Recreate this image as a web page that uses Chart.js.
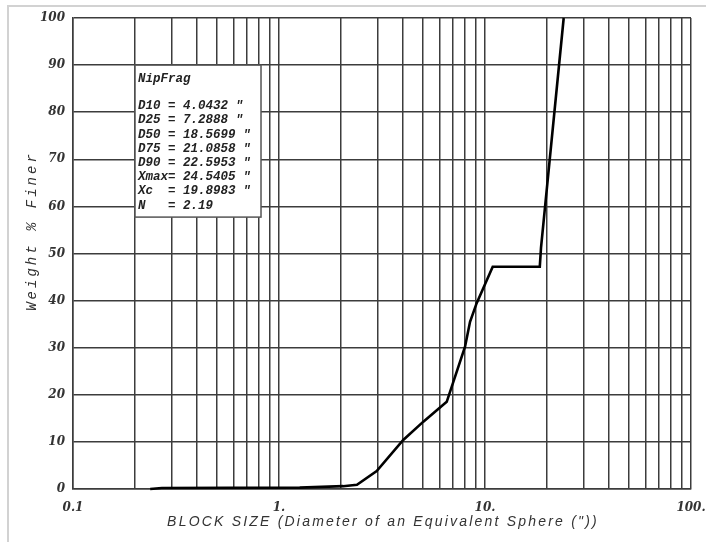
<!DOCTYPE html>
<html>
<head>
<meta charset="utf-8">
<script src="https://cdn.jsdelivr.net/npm/chart.js@4.4.1/dist/chart.umd.min.js"></script>
<style>
  html, body { margin: 0; padding: 0; background: #fff; }
  #frame { position: absolute; left: 7px; top: 5px; width: 699px; height: 537px;
           border-top: 2px solid #d2d2d2; border-left: 2px solid #d2d2d2; }
  #chart { position: absolute; left: 0; top: 0; }
</style>
</head>
<body>
<div id="frame"></div>
<canvas id="chart" width="706" height="542"></canvas>
<script>
'use strict';

// block size (inches) vs weight % finer
var blockSize = [0.237, 0.27, 1.26, 2.05, 2.39, 2.98, 4.01, 5.02, 6.52, 8.0, 8.46, 9.1, 10.9, 18.45, 18.7, 24.1];
var pctFiner  = [0,     0.2,  0.3,  0.6,  0.9,  3.8,  10.4, 14.3, 18.5, 30.2, 35.5, 39.4, 47.2, 47.2,  51.2, 100];

var xDecades    = [0.1, 1, 10, 100];
var xTickLabels = ['0.1', '1.', '10.', '100.'];
var yTicks      = [0, 10, 20, 30, 40, 50, 60, 70, 80, 90, 100];

var statsTitle = 'NipFrag';
var statsLines = [
  'D10 = 4.0432 "',
  'D25 = 7.2888 "',
  'D50 = 18.5699 "',
  'D75 = 21.0858 "',
  'D90 = 22.5953 "',
  'Xmax= 24.5405 "',
  'Xc  = 19.8983 "',
  'N   = 2.19'
];

var xTitle = 'BLOCK SIZE (Diameter of an Equivalent Sphere ("))';
var yTitle = 'Weight % Finer';

var gridColor = '#3c3c3c';
var tickFont = { family: 'DejaVu Serif', size: 12, style: 'italic', weight: 'bold' };

// log grid: every 1..9 step inside each decade
function logGridTicks() {
  var t = [];
  for (var i = 0; i < xDecades.length - 1; i++) {
    for (var m = 1; m < 10; m++) t.push({ value: xDecades[i] * m });
  }
  t.push({ value: xDecades[xDecades.length - 1] });
  return t;
}

var overlay = {
  id: 'overlay',
  afterDraw: function (chart) {
    var ctx = chart.ctx;
    var xs = chart.scales.x, ys = chart.scales.y;
    var area = chart.chartArea;

    // stats box anchored at (0.2, 90)
    var bx = xs.getPixelForValue(0.2), by = ys.getPixelForValue(90);
    var bw = 126, bh = 152;
    ctx.save();
    ctx.fillStyle = '#fff';
    ctx.fillRect(bx, by, bw, bh);
    ctx.strokeStyle = '#555';
    ctx.lineWidth = 1.5;
    ctx.strokeRect(bx, by, bw, bh);
    ctx.fillStyle = '#222';
    ctx.font = 'italic bold 12.5px "Liberation Mono"';
    ctx.textBaseline = 'middle';
    ctx.fillText(statsTitle, bx + 3, by + 14);
    statsLines.forEach(function (s, i) {
      ctx.fillText(s, bx + 3, by + 41 + i * 14.2);
    });

    // axis titles
    ctx.fillStyle = '#333';
    ctx.textAlign = 'center';
    ctx.font = 'italic 14px "Liberation Sans"';
    ctx.letterSpacing = '2.2px';
    ctx.fillText(xTitle, 383, 522);
    ctx.translate(32, 231);
    ctx.rotate(-Math.PI / 2);
    ctx.font = 'italic 14px "Liberation Mono"';
    ctx.letterSpacing = '3px';
    ctx.fillText(yTitle, 0, 0);
    ctx.restore();
  }
};

var points = blockSize.map(function (x, i) { return { x: x, y: pctFiner[i] }; });

new Chart(document.getElementById('chart').getContext('2d'), {
  type: 'scatter',
  data: {
    datasets: [{
      data: points,
      showLine: true,
      borderColor: '#000',
      borderWidth: 2.6,
      pointRadius: 0,
      tension: 0,
      clip: false
    }]
  },
  options: {
    responsive: false,
    animation: false,
    layout: { padding: { top: 18, right: 15, left: 0, bottom: 0 } },
    plugins: { legend: { display: false }, tooltip: { enabled: false } },
    scales: {
      x: {
        type: 'logarithmic',
        min: 0.1,
        max: 100,
        afterBuildTicks: function (s) { s.ticks = logGridTicks(); },
        afterFit: function (s) { s.height = 53; s.paddingLeft = 0; s.paddingRight = 0; },
        grid: { color: gridColor, lineWidth: 1.5, drawTicks: false },
        border: { color: gridColor, width: 1.5 },
        ticks: {
          autoSkip: false,
          maxRotation: 0,
          padding: 12,
          color: '#333',
          font: tickFont,
          callback: function (v) {
            var k = xDecades.indexOf(v);
            return k >= 0 ? xTickLabels[k] : '';
          }
        }
      },
      y: {
        min: 0,
        max: 100,
        afterBuildTicks: function (s) { s.ticks = yTicks.map(function (v) { return { value: v }; }); },
        afterFit: function (s) { s.width = 73; s.paddingTop = 0; s.paddingBottom = 0; },
        grid: { color: gridColor, lineWidth: 1.5, drawTicks: false },
        border: { color: gridColor, width: 1.5 },
        ticks: { padding: 8, color: '#333', font: tickFont }
      }
    }
  },
  plugins: [overlay]
});
</script>
</body>
</html>
